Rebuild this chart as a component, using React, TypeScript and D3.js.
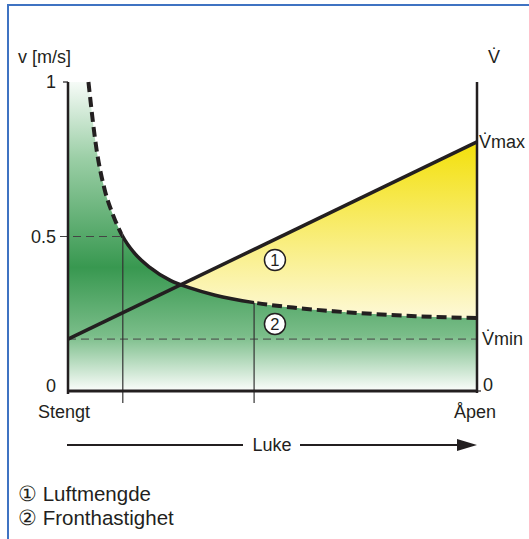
import React from "react";
import * as d3 from "d3";

// gate opening (0 = Stengt, 1 = Åpen) vs. front velocity v [m/s]
const curveT = [0.05, 0.07, 0.09, 0.11, 0.134, 0.16, 0.2, 0.25, 0.3, 0.36, 0.455, 0.55, 0.65, 0.75, 0.85, 1.0];
const curveV = [1.0, 0.78, 0.65, 0.57, 0.5, 0.45, 0.4, 0.358, 0.333, 0.31, 0.286, 0.27, 0.258, 0.249, 0.242, 0.236];
// air volume line (Luftmengde)
const flowT = [0, 1];
const flowV = [0.168, 0.806];
const vMin = 0.168;
const vMax = 0.806;
const markT = [0.134, 0.455];
const yTicks = [0, 0.5, 1];
const yTickLabels = ["0", "0.5", "1"];
const badges = [
  { n: "1", t: 0.506, v: 0.424 },
  { n: "2", t: 0.506, v: 0.217 },
];
const legend = ["① Luftmengde", "② Fronthastighet"];

const W = 529;
const H = 539;
const FONT = "'Liberation Sans', Arial, Helvetica, sans-serif";
const INK = "#231f20";

export default function App() {
  const x = d3.scaleLinear().domain([0, 1]).range([68, 477]);
  const y = d3.scaleLinear().domain([0, 1]).range([391, 82]);

  const curve = curveT.map((t, i) => ({ t, v: curveV[i] }));
  const flow = flowT.map((t, i) => ({ t, v: flowV[i] }));

  const line = d3
    .line<{ t: number; v: number }>()
    .x((d) => x(d.t))
    .y((d) => y(d.v))
    .curve(d3.curveMonotoneX);
  const curvePath = line(curve) || "";
  const flowPath = d3
    .line<{ t: number; v: number }>()
    .x((d) => x(d.t))
    .y((d) => y(d.v))(flow) || "";

  // green: everything under the velocity curve
  const greenPath =
    `M${x(0)},${y(1)}L` +
    curvePath.slice(1) +
    `L${x(1)},${y(0)}L${x(0)},${y(0)}Z`;
  // region above the curve, used to clip the yellow area
  const aboveCurve =
    `M${x(0)},${y(1.2)}L${x(0)},${y(1)}L` +
    curvePath.slice(1) +
    `L${x(1)},${y(1.2)}Z`;
  const underFlow = d3
    .area<{ t: number; v: number }>()
    .x((d) => x(d.t))
    .y0(y(0))
    .y1((d) => y(d.v))(flow) || "";

  return (
    <svg
      width={W}
      height={H}
      style={{ position: "absolute", left: 0, top: 0, background: "#fff" }}
      fontFamily={FONT}
    >
      <defs>
        <linearGradient id="green" gradientUnits="userSpaceOnUse" x1="0" x2="0" y1={y(1)} y2={y(0)}>
          <stop offset="0" stopColor="#f6fbf7" />
          <stop offset="0.25" stopColor="#9acea5" />
          <stop offset="0.6" stopColor="#389850" />
          <stop offset="0.82" stopColor="#7abd89" />
          <stop offset="1" stopColor="#fbfdfb" />
        </linearGradient>
        <linearGradient id="yellow" gradientUnits="userSpaceOnUse" x1="0" x2="0" y1={y(vMax)} y2={y(0.25)}>
          <stop offset="0" stopColor="#f3e00a" />
          <stop offset="1" stopColor="#fdf8d2" />
        </linearGradient>
        <clipPath id="above">
          <path d={aboveCurve} />
        </clipPath>
        <clipPath id="mid">
          <rect x={x(markT[0])} y={0} width={x(markT[1]) - x(markT[0])} height={H} />
        </clipPath>
        <clipPath id="outer">
          <path
            d={`M0,0H${x(markT[0])}V${H}H0Z M${x(markT[1])},0H${W}V${H}H${x(markT[1])}Z`}
          />
        </clipPath>
      </defs>

      {/* frame */}
      <line x1={8} x2={W} y1={5} y2={5} stroke="#3f73c2" strokeWidth={2} />
      <line x1={8} x2={8} y1={4} y2={H} stroke="#3f73c2" strokeWidth={2} />

      {/* fills */}
      <path d={greenPath} fill="url(#green)" />
      <path d={underFlow} fill="url(#yellow)" clipPath="url(#above)" />

      {/* helper lines */}
      <line x1={60} x2={x(markT[0])} y1={y(0.5)} y2={y(0.5)} stroke="#444" strokeWidth={1} strokeDasharray="8,5" />
      <line x1={x(0)} x2={x(1)} y1={y(vMin)} y2={y(vMin)} stroke="#444" strokeWidth={1} strokeDasharray="8,5" />
      {markT.map((t, i) => (
        <line
          key={i}
          x1={x(t)}
          x2={x(t)}
          y1={y(curveV[curveT.indexOf(t)])}
          y2={403}
          stroke="#333"
          strokeWidth={1.2}
        />
      ))}

      {/* axes */}
      <line x1={x(0)} x2={x(0)} y1={y(1)} y2={394} stroke={INK} strokeWidth={2.5} />
      <line x1={63} x2={x(0)} y1={y(1)} y2={y(1)} stroke={INK} strokeWidth={1.2} />
      <line x1={x(1)} x2={x(1)} y1={y(1)} y2={393} stroke={INK} strokeWidth={2.5} />
      <line x1={x(1)} x2={481} y1={y(0)} y2={y(0)} stroke={INK} strokeWidth={1.2} />
      <line x1={x(0) - 1} x2={x(1) + 1} y1={y(0)} y2={y(0)} stroke={INK} strokeWidth={3} />

      {/* curves */}
      <path d={flowPath} fill="none" stroke={INK} strokeWidth={3.5} />
      <path d={curvePath} fill="none" stroke={INK} strokeWidth={4} strokeDasharray="10,5" clipPath="url(#outer)" />
      <path d={curvePath} fill="none" stroke={INK} strokeWidth={3.5} clipPath="url(#mid)" />

      {/* badges */}
      {badges.map((b) => (
        <g key={b.n} transform={`translate(${x(b.t)},${y(b.v)})`}>
          <circle r={10.5} fill="#fff" stroke={INK} strokeWidth={1.5} />
          <text y={6} textAnchor="middle" fontSize={16.5} fill={INK}>
            {b.n}
          </text>
        </g>
      ))}

      {/* labels */}
      <g fontSize={18} fill={INK}>
        <text x={18} y={63}>v [m/s]</text>
        {yTicks.map((v, i) => (
          <text key={v} x={56} y={y(v) + 6 - (v === 0 ? 5 : 0)} textAnchor="end">
            {yTickLabels[i]}
          </text>
        ))}
        <text x={488} y={63}>V̇</text>
        <text x={479} y={y(vMax) + 6}>V̇max</text>
        <text x={482} y={y(vMin) + 6}>V̇min</text>
        <text x={483} y={y(0)}>0</text>
        <text x={38} y={418}>Stengt</text>
        <text x={454} y={418}>Åpen</text>
        <text x={272} y={451} textAnchor="middle">Luke</text>
      </g>

      {/* Luke arrow */}
      <line x1={67} x2={243} y1={445} y2={445} stroke={INK} strokeWidth={2} />
      <line x1={300} x2={462} y1={445} y2={445} stroke={INK} strokeWidth={2} />
      <path d="M457,439L477,445L457,451Z" fill={INK} />

      {/* legend */}
      <g fontSize={20.5} fill={INK}>
        {legend.map((l, i) => (
          <text key={l} x={18} y={501 + i * 23.5}>
            {l}
          </text>
        ))}
      </g>
    </svg>
  );
}
